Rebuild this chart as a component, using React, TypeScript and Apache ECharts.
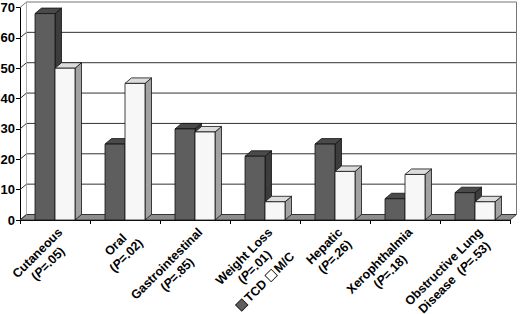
import React, { useEffect, useRef } from "react";
import * as echarts from "echarts";

const categoryLabels = [
  "Cutaneous\n(P=.05)",
  "Oral\n(P=.02)",
  "Gastrointestinal\n(P=.85)",
  "Weight Loss\n(P=.01)",
  "Hepatic\n(P=.26)",
  "Xerophthalmia\n(P=.18)",
  "Obstructive Lung\nDisease  (P=.53)",
];
const tcdValues = [68, 25, 30, 21, 25, 7, 9];
const mcValues = [50, 45, 29, 6, 16, 15, 6];
const yTicks = [0, 10, 20, 30, 40, 50, 60, 70];
const seriesNames = ["TCD", "M/C"];

const DX = 6.5;
const DY = -5.5;
const FONT = "'Liberation Sans', Arial, sans-serif";

const palettes = [
  { front: "#5e5e5e", top: "#4a4a4a", side: "#3c3c3c" },
  { front: "#f7f7f7", top: "#dcdcdc", side: "#a2a2a2" },
];

function toRich(label: string): string {
  return label
    .split("\n")
    .map((line) => "{n|" + line.replace("(P=", "(}{i|P}{n|=") + "}")
    .join("\n");
}

function barRenderer(s: number) {
  return (params: any, api: any) => {
    const idx = api.value(0);
    const v = api.value(1);
    const top = api.coord([idx, v]);
    const base = api.coord([idx, 0]);
    const band = api.size([1, 0])[0];
    const w = (band * 2) / 7;
    const x0 = s === 0 ? top[0] - w : top[0];
    const x1 = x0 + w;
    const p = palettes[s];
    const stroke = { stroke: "#111", lineWidth: 0.8 };
    return {
      type: "group",
      children: [
        {
          type: "polygon",
          shape: { points: [[x1, top[1]], [x1 + DX, top[1] + DY], [x1 + DX, base[1] + DY], [x1, base[1]]] },
          style: { fill: p.side, ...stroke },
        },
        {
          type: "polygon",
          shape: { points: [[x0, top[1]], [x1, top[1]], [x1 + DX, top[1] + DY], [x0 + DX, top[1] + DY]] },
          style: { fill: p.top, ...stroke },
        },
        {
          type: "rect",
          shape: { x: x0, y: top[1], width: w, height: base[1] - top[1] },
          style: { fill: p.front, ...stroke },
        },
      ],
    };
  };
}

function wallRenderer(params: any, api: any) {
  const v = api.value(1);
  const cs = params.coordSys;
  const left = cs.x;
  const right = cs.x + cs.width;
  const y = api.coord([0, v])[1];
  const yMax = api.coord([0, yTicks[yTicks.length - 1]])[1];
  const y0 = api.coord([0, 0])[1];
  const children: any[] = [];
  if (v === 0) {
    children.push({
      type: "polygon",
      shape: { points: [[left, y0], [right, y0], [right + DX, y0 + DY], [left + DX, y0 + DY]] },
      style: { fill: "#8e8e8e", stroke: "#222", lineWidth: 0.8 },
    });
  }
  children.push({
    type: "polyline",
    shape: { points: [[left, y], [left + DX, y + DY], [right + DX, y + DY]] },
    style: { stroke: v === yTicks[yTicks.length - 1] ? "#777" : "#333", lineWidth: 1, fill: null },
  });
  if (v === yTicks[yTicks.length - 1]) {
    children.push({
      type: "line",
      shape: { x1: right + DX, y1: yMax + DY, x2: right + DX, y2: y0 + DY },
      style: { stroke: "#777", lineWidth: 1 },
    });
    children.push({
      type: "line",
      shape: { x1: left + DX, y1: yMax + DY, x2: left + DX, y2: y0 + DY },
      style: { stroke: "#999", lineWidth: 0.8 },
    });
  }
  return { type: "group", children };
}

const legendText =
  "{a| }{s| }{t|" + seriesNames[0] + "}{g| }{b| }{s| }{t|" + seriesNames[1] + "}";

export default function App() {
  const ref = useRef<HTMLDivElement>(null);
  useEffect(() => {
    if (!ref.current) return;
    const chart = echarts.init(ref.current, null, { renderer: "svg" });
    chart.setOption({
      animation: false,
      backgroundColor: "#fff",
      grid: [
        { left: 20, right: 10, top: 7.5, bottom: 94, containLabel: false, outerBoundsMode: "none" },
        { left: 228.9, width: 20, top: 200, height: 100, containLabel: false, outerBoundsMode: "none" },
      ],
      xAxis: [
        {
          type: "category",
          gridIndex: 0,
          data: categoryLabels,
          boundaryGap: true,
          axisLine: { show: true, lineStyle: { color: "#000", width: 1 } },
          axisTick: { show: true, length: 4, lineStyle: { color: "#000" } },
          axisLabel: {
            interval: 0,
            rotate: 45,
            margin: 5,
            verticalAlign: "top",
            formatter: (val: string) => toRich(val),
            rich: {
              n: { fontFamily: FONT, fontWeight: "bold", fontSize: 12.5, color: "#000", align: "center", lineHeight: 15 },
              i: { fontFamily: FONT, fontWeight: "bold", fontStyle: "italic", fontSize: 12.5, color: "#000", align: "center", lineHeight: 15 },
            },
          },
          splitLine: { show: false },
        },
        {
          type: "category",
          gridIndex: 1,
          data: ["legend"],
          boundaryGap: true,
          axisLine: { show: false },
          axisTick: { show: false },
          splitLine: { show: false },
          axisLabel: {
            show: true,
            interval: 0,
            rotate: 45,
            margin: 7.8,
            align: "left",
            verticalAlign: "middle",
            formatter: () => legendText,
            rich: {
              a: { width: 8, height: 8, backgroundColor: palettes[0].front, borderColor: "#111", borderWidth: 0.8, color: "transparent", fontSize: 8 },
              b: { width: 8, height: 8, backgroundColor: "#fff", borderColor: "#111", borderWidth: 0.8, color: "transparent", fontSize: 8 },
              s: { width: 3, fontSize: 8, color: "transparent" },
              g: { width: 5, fontSize: 8, color: "transparent" },
              t: { fontFamily: FONT, fontWeight: "bold", fontSize: 12.5, color: "#000", lineHeight: 14 },
            },
          },
        },
      ],
      yAxis: [
        {
          type: "value",
          gridIndex: 0,
          min: 0,
          max: 70,
          interval: 10,
          axisLine: { show: true, lineStyle: { color: "#000", width: 1 } },
          axisTick: { show: true, length: 4, lineStyle: { color: "#000" } },
          axisLabel: { fontFamily: FONT, fontWeight: "bold", fontSize: 13, color: "#000", margin: 5 },
          splitLine: { show: false },
        },
        {
          type: "value",
          gridIndex: 1,
          show: false,
          min: 0,
          max: 1,
        },
      ],
      series: [
        {
          type: "custom",
          name: "wall",
          renderItem: wallRenderer,
          data: yTicks.map((t) => [0, t]),
          silent: true,
          z: 1,
        },
        {
          type: "custom",
          name: seriesNames[0],
          renderItem: barRenderer(0),
          data: tcdValues.map((v, i) => [i, v]),
          z: 2,
        },
        {
          type: "custom",
          name: seriesNames[1],
          renderItem: barRenderer(1),
          data: mcValues.map((v, i) => [i, v]),
          z: 3,
        },
      ],
    });
    return () => chart.dispose();
  }, []);
  return <div ref={ref} style={{ position: "absolute", left: 0, top: 0, width: 520, height: 314 }} />;
}
